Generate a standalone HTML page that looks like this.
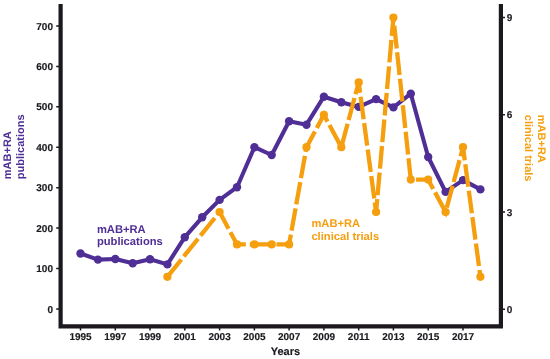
<!DOCTYPE html>
<html><head><meta charset="utf-8"><style>
html,body{margin:0;padding:0;background:#fff;}
svg{display:block;filter:blur(0.4px);}
text{font-family:"Liberation Sans",sans-serif;font-weight:bold;text-rendering:geometricPrecision;}
</style></head><body>
<svg width="550" height="359" viewBox="0 0 550 359">
<rect width="550" height="359" fill="#fff"/>
<g font-size="10" fill="#1b191e" stroke="#1b191e" stroke-width="0.15">
<path d="M60.6 4 V328.1 M58.5 326.3 H502.9 M500.9 4 V328.1" fill="none" stroke="#1b191e" stroke-width="4.2"/>
<text x="53" y="312.6" text-anchor="end">0</text>
<text x="53" y="272.2" text-anchor="end">100</text>
<text x="53" y="231.7" text-anchor="end">200</text>
<text x="53" y="191.3" text-anchor="end">300</text>
<text x="53" y="150.9" text-anchor="end">400</text>
<text x="53" y="110.4" text-anchor="end">500</text>
<text x="53" y="70.0" text-anchor="end">600</text>
<text x="53" y="29.6" text-anchor="end">700</text>
<text x="506.8" y="312.8">0</text>
<text x="506.8" y="215.6">3</text>
<text x="506.8" y="118.4">6</text>
<text x="506.8" y="21.2">9</text>
<text x="80.5" y="340.1" text-anchor="middle">1995</text>
<text x="115.3" y="340.1" text-anchor="middle">1997</text>
<text x="150.0" y="340.1" text-anchor="middle">1999</text>
<text x="184.8" y="340.1" text-anchor="middle">2001</text>
<text x="219.6" y="340.1" text-anchor="middle">2003</text>
<text x="254.4" y="340.1" text-anchor="middle">2005</text>
<text x="289.1" y="340.1" text-anchor="middle">2007</text>
<text x="323.9" y="340.1" text-anchor="middle">2009</text>
<text x="358.7" y="340.1" text-anchor="middle">2011</text>
<text x="393.4" y="340.1" text-anchor="middle">2013</text>
<text x="428.2" y="340.1" text-anchor="middle">2015</text>
<text x="463.0" y="340.1" text-anchor="middle">2017</text>
<path d="M56.2 309.0 H59 M56.2 268.6 H59 M56.2 228.1 H59 M56.2 187.7 H59 M56.2 147.3 H59 M56.2 106.8 H59 M56.2 66.4 H59 M56.2 26.0 H59 M502.5 309.2 H505 M502.5 212.0 H505 M502.5 114.8 H505 M502.5 17.6 H505 M80.5 327 V330.5 M115.3 327 V330.5 M150.0 327 V330.5 M184.8 327 V330.5 M219.6 327 V330.5 M254.4 327 V330.5 M289.1 327 V330.5 M323.9 327 V330.5 M358.7 327 V330.5 M393.4 327 V330.5 M428.2 327 V330.5 M463.0 327 V330.5" stroke="#1b191e" stroke-width="1.5"/>
<text x="285.4" y="354.9" text-anchor="middle" font-size="11">Years</text>
</g>
<polyline points="80.5,253.5 97.9,259.6 115.3,259.0 132.7,263.3 150.0,259.2 167.4,264.4 184.8,237.2 202.2,217.3 219.6,199.9 237.0,187.2 254.4,147.2 271.7,155.0 289.1,121.2 306.5,124.7 323.9,96.7 341.3,102.3 358.7,106.9 376.1,99.1 393.4,107.4 410.8,93.7 428.2,157.0 445.6,191.9 463.0,180.1 480.4,189.4" fill="none" stroke="#4f2e95" stroke-width="4.1" stroke-linejoin="round"/>
<circle cx="80.5" cy="253.5" r="4.2" fill="#4f2e95"/>
<circle cx="97.9" cy="259.6" r="4.2" fill="#4f2e95"/>
<circle cx="115.3" cy="259.0" r="4.2" fill="#4f2e95"/>
<circle cx="132.7" cy="263.3" r="4.2" fill="#4f2e95"/>
<circle cx="150.0" cy="259.2" r="4.2" fill="#4f2e95"/>
<circle cx="167.4" cy="264.4" r="4.2" fill="#4f2e95"/>
<circle cx="184.8" cy="237.2" r="4.2" fill="#4f2e95"/>
<circle cx="202.2" cy="217.3" r="4.2" fill="#4f2e95"/>
<circle cx="219.6" cy="199.9" r="4.2" fill="#4f2e95"/>
<circle cx="237.0" cy="187.2" r="4.2" fill="#4f2e95"/>
<circle cx="254.4" cy="147.2" r="4.2" fill="#4f2e95"/>
<circle cx="271.7" cy="155.0" r="4.2" fill="#4f2e95"/>
<circle cx="289.1" cy="121.2" r="4.2" fill="#4f2e95"/>
<circle cx="306.5" cy="124.7" r="4.2" fill="#4f2e95"/>
<circle cx="323.9" cy="96.7" r="4.2" fill="#4f2e95"/>
<circle cx="341.3" cy="102.3" r="4.2" fill="#4f2e95"/>
<circle cx="358.7" cy="106.9" r="4.2" fill="#4f2e95"/>
<circle cx="376.1" cy="99.1" r="4.2" fill="#4f2e95"/>
<circle cx="393.4" cy="107.4" r="4.2" fill="#4f2e95"/>
<circle cx="410.8" cy="93.7" r="4.2" fill="#4f2e95"/>
<circle cx="428.2" cy="157.0" r="4.2" fill="#4f2e95"/>
<circle cx="445.6" cy="191.9" r="4.2" fill="#4f2e95"/>
<circle cx="463.0" cy="180.1" r="4.2" fill="#4f2e95"/>
<circle cx="480.4" cy="189.4" r="4.2" fill="#4f2e95"/>
<polyline points="167.4,276.8 219.6,212.0 237.0,244.4 254.4,244.4 271.7,244.4 289.1,244.4 306.5,147.2 323.9,114.8 341.3,147.2 358.7,82.4 376.1,212.0 393.4,17.6 410.8,179.6 428.2,179.6 445.6,212.0 463.0,147.2 480.4,276.8" fill="none" stroke="#f59e0e" stroke-width="4.3" stroke-dasharray="22.7 3.95" stroke-dashoffset="0.5" stroke-linejoin="miter"/>
<circle cx="167.4" cy="276.8" r="4.1" fill="#f59e0e"/>
<circle cx="219.6" cy="212.0" r="4.1" fill="#f59e0e"/>
<circle cx="237.0" cy="244.4" r="4.1" fill="#f59e0e"/>
<circle cx="254.4" cy="244.4" r="4.1" fill="#f59e0e"/>
<circle cx="271.7" cy="244.4" r="4.1" fill="#f59e0e"/>
<circle cx="289.1" cy="244.4" r="4.1" fill="#f59e0e"/>
<circle cx="306.5" cy="147.2" r="4.1" fill="#f59e0e"/>
<circle cx="323.9" cy="114.8" r="4.1" fill="#f59e0e"/>
<circle cx="341.3" cy="147.2" r="4.1" fill="#f59e0e"/>
<circle cx="358.7" cy="82.4" r="4.1" fill="#f59e0e"/>
<circle cx="376.1" cy="212.0" r="4.1" fill="#f59e0e"/>
<circle cx="393.4" cy="17.6" r="4.1" fill="#f59e0e"/>
<circle cx="410.8" cy="179.6" r="4.1" fill="#f59e0e"/>
<circle cx="428.2" cy="179.6" r="4.1" fill="#f59e0e"/>
<circle cx="445.6" cy="212.0" r="4.1" fill="#f59e0e"/>
<circle cx="463.0" cy="147.2" r="4.1" fill="#f59e0e"/>
<circle cx="480.4" cy="276.8" r="4.1" fill="#f59e0e"/>
<g fill="#4f2e95" font-size="11.2"><text x="96.9" y="233.2">mAB+RA</text><text x="96.9" y="245.2">publications</text></g>
<g fill="#f59e0e" font-size="11.2"><text x="311.4" y="226.8">mAB+RA</text><text x="311.4" y="239.5">clinical trials</text></g>
<g fill="#4f2e95" font-size="11" transform="translate(11.3 179.2) rotate(-90)"><text x="0" y="0">mAB+RA</text><text x="0" y="12.7">publications</text></g>
<g fill="#f59e0e" font-size="11" transform="translate(537.5 114.8) rotate(90)"><text x="0" y="0">mAB+RA</text><text x="0" y="12.7">clinical trials</text></g>
</svg>
</body></html>
